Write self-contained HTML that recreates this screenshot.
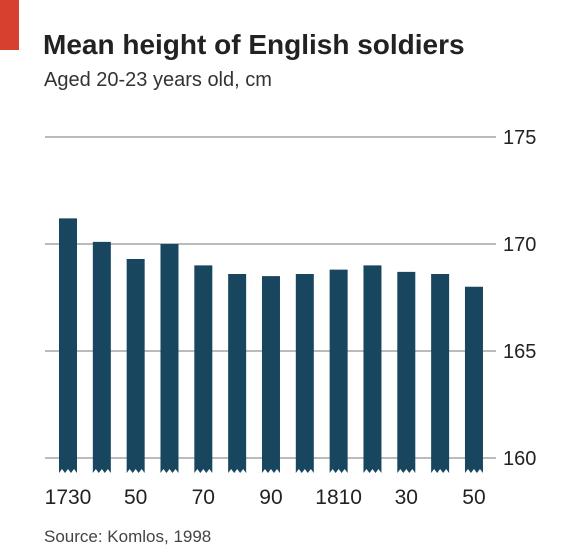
<!DOCTYPE html>
<html><head><meta charset="utf-8"><style>
body{margin:0;background:#fff;font-family:"Liberation Sans",sans-serif;}
#wrap{position:relative;width:579px;height:556px;overflow:hidden;background:#fff;}
</style></head><body>
<div id="wrap">
<svg id="svg" width="579" height="556">
<rect x="0" y="0" width="19" height="50" fill="#d7402f"/>
<text x="43" y="54" font-size="28" font-weight="bold" fill="#222">Mean height of English soldiers</text>
<text x="44" y="86" font-size="20" fill="#333">Aged 20-23 years old, cm</text>
<text x="44" y="542" font-size="17" fill="#444">Source: Komlos, 1998</text>
<g id="grid"></g><g id="bars"></g><g id="labels"></g>
</svg>
</div>
<script>
const years=[1730,1740,1750,1760,1770,1780,1790,1800,1810,1820,1830,1840,1850];
const heights=[171.2,170.1,169.3,170.0,169.0,168.6,168.5,168.6,168.8,169.0,168.7,168.6,168.0];
const yTicks=[160,165,170,175];
const xLabels=["1730","","50","","70","","90","","1810","","30","","50"];
const NS="http://www.w3.org/2000/svg";
const y=v=>458-(v-160)*21.4;
const x=i=>68+i*33.83;
const grid=document.getElementById('grid'),bars=document.getElementById('bars'),labels=document.getElementById('labels');
yTicks.forEach(t=>{
 const l=document.createElementNS(NS,'line');
 l.setAttribute('x1',45);l.setAttribute('x2',496);l.setAttribute('y1',y(t));l.setAttribute('y2',y(t));
 l.setAttribute('stroke','#bbb');l.setAttribute('stroke-width','2');
 
 
 grid.appendChild(l);
 const tx=document.createElementNS(NS,'text');
 tx.setAttribute('x',503);tx.setAttribute('y',y(t)+7);tx.setAttribute('font-size','20');tx.setAttribute('fill','#222');
 tx.textContent=t;
 
 
 labels.appendChild(tx);
});
heights.forEach((h,i)=>{
 const cx=x(i),w=18,top=y(h),bot=473,l=cx-w/2,r=cx+w/2;
 const p=document.createElementNS(NS,'path');
 p.setAttribute('d',`M${l},${top}H${r}V${bot}L${r-3},${bot-4}L${r-6},${bot}L${cx},${bot-4}L${l+6},${bot}L${l+3},${bot-4}L${l},${bot}Z`);
 p.setAttribute('fill','#17465e');
 
 
 bars.appendChild(p);
 if(xLabels[i]){
  const tx=document.createElementNS(NS,'text');
  tx.setAttribute('x',cx);tx.setAttribute('y',504);tx.setAttribute('font-size','21');tx.setAttribute('fill','#222');tx.setAttribute('text-anchor','middle');
  tx.textContent=xLabels[i];
  
  
  labels.appendChild(tx);
 }
});
</script>
</body></html>
